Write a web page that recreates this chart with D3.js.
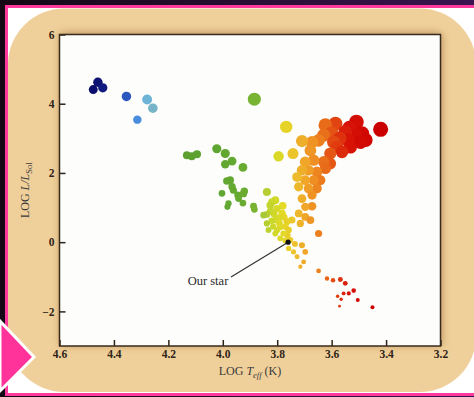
<!DOCTYPE html>
<html>
<head>
<meta charset="utf-8">
<script src="https://cdn.jsdelivr.net/npm/d3@7"></script>
<style>
  html, body { margin: 0; padding: 0; background: #1a0b1c; }
  svg { display: block; }
</style>
</head>
<body>
<svg id="chart" width="474" height="397"></svg>
<script>
// Hertzsprung–Russell diagram: [log Teff (K), log L/Lsun]
const hotStars = [
  [4.476, 4.41], [4.459, 4.62], [4.441, 4.46], [4.354, 4.21],
  [4.314, 3.54], [4.278, 4.12], [4.257, 3.87]
];

const mainSequence = [
  [4.132, 2.51], [4.114, 2.48], [4.095, 2.54],
  [4.022, 2.70], [3.991, 2.56], [3.991, 2.25], [3.966, 2.34], [3.926, 2.16],
  [3.985, 1.77], [3.973, 1.79], [3.966, 1.60], [4.003, 1.41], [3.961, 1.50],
  [3.921, 1.47], [3.945, 1.36], [3.942, 1.26], [3.926, 1.13], [3.979, 1.12],
  [3.983, 1.02], [3.887, 1.04], [3.884, 0.95], [3.924, 1.40],
  [3.838, 1.45], [3.819, 1.16], [3.807, 1.21], [3.826, 1.07], [3.801, 0.97],
  [3.850, 0.78], [3.838, 0.80], [3.782, 0.83], [3.807, 0.64], [3.764, 0.59],
  [3.746, 0.64], [3.789, 0.44], [3.838, 0.54], [3.832, 0.35], [3.807, 0.25],
  [3.777, 0.25], [3.758, 0.35], [3.789, 0.11], [3.752, 0.06], [3.815, 0.45],
  [3.795, 0.70], [3.770, 0.45], [3.825, 0.90], [3.780, 1.05], [3.800, 0.35],
  [3.762, 0.20], [3.735, -0.05], [3.758, -0.18], [3.740, -0.28], [3.727, -0.42],
  [3.715, -0.71], [3.703, -0.57], [3.697, -0.28], [3.709, -0.09],
  [3.812, 0.82], [3.792, 0.55], [3.775, 0.72], [3.820, 0.62], [3.770, 0.05],
  [3.648, 0.25], [3.648, -0.83]
];

const giants = [
  [3.884, 4.13], [3.767, 3.33], [3.795, 2.48], [3.742, 2.56], [3.709, 2.92],
  [3.623, 3.38], [3.586, 3.42], [3.509, 3.47], [3.420, 3.26], [3.550, 3.18],
  [3.513, 3.09], [3.488, 3.14], [3.494, 2.89], [3.531, 2.75], [3.562, 2.61],
  [3.593, 2.89], [3.605, 2.56], [3.629, 3.09], [3.648, 2.94], [3.672, 2.89],
  [3.678, 2.65], [3.666, 2.37], [3.629, 2.32], [3.605, 2.27], [3.697, 2.32],
  [3.709, 2.08], [3.685, 2.08], [3.654, 2.03], [3.623, 2.13], [3.727, 1.88],
  [3.697, 1.79], [3.666, 1.79], [3.642, 1.79], [3.721, 1.60], [3.685, 1.55],
  [3.654, 1.55], [3.709, 1.26], [3.672, 1.36], [3.697, 1.02], [3.672, 1.04],
  [3.721, 0.83], [3.697, 0.73], [3.715, 0.54], [3.678, 0.64],
  [3.570, 3.00], [3.540, 2.95], [3.580, 2.75], [3.535, 3.30], [3.600, 3.15],
  [3.475, 2.95]
];

const dwarfs = [
  [3.617, -1.05], [3.595, -1.10], [3.568, -1.08], [3.550, -1.19], [3.519, -1.40],
  [3.537, -1.48], [3.556, -1.48], [3.578, -1.56], [3.565, -1.65], [3.504, -1.67],
  [3.571, -1.85], [3.450, -1.88]
];

const sun = [3.76, 0.0];
const sunLabel = "Our star";

const xTicks = [4.6, 4.4, 4.2, 4.0, 3.8, 3.6, 3.4, 3.2];
const yTicks = [-2, 0, 2, 4, 6];

// colour by surface temperature
const tempStops = [4.47, 4.40, 4.35, 4.31, 4.28, 4.25, 4.15, 4.00, 3.90, 3.88, 3.85, 3.82, 3.78, 3.74, 3.70, 3.66, 3.62, 3.58, 3.54, 3.45, 3.40];
const tempColors = ["#0b0d6c", "#1a2f9a", "#2c5ac2", "#4c92e0", "#6cb4d8", "#7cb4c2", "#5c9e2e", "#60a632", "#6cae30", "#7cb432", "#a8c838", "#cad82a", "#e4da26", "#ecc42c", "#f0a82a", "#ee8a22", "#e86818", "#e03c10", "#d81408", "#cc0000", "#c80000"];

const W = 474, H = 397;
const plot = { left: 59.5, right: 440.5, top: 34.5, bottom: 346 };

const svg = d3.select("#chart");
const defs = svg.append("defs");

const bgGrad = defs.append("linearGradient").attr("id", "bg").attr("x1", 0).attr("x2", 1).attr("y1", 0).attr("y2", 0);
bgGrad.append("stop").attr("offset", "0%").attr("stop-color", "#140814");
bgGrad.append("stop").attr("offset", "100%").attr("stop-color", "#3a1450");

const shadow = defs.append("filter").attr("id", "plotShadow")
  .attr("x", "-10%").attr("y", "-10%").attr("width", "120%").attr("height", "120%");
shadow.append("feDropShadow").attr("dx", 1).attr("dy", -1).attr("stdDeviation", 4)
  .attr("flood-color", "#7a4e1c").attr("flood-opacity", 0.55);

// backdrop, frame and panel
svg.append("rect").attr("width", W).attr("height", H).attr("fill", "url(#bg)");
svg.append("rect").attr("x", 6.5).attr("y", 6.5).attr("width", W + 10).attr("height", 388)
  .attr("fill", "#ffffff").attr("stroke", "#ff3a9c").attr("stroke-width", 3);
svg.append("rect").attr("x", 8).attr("y", 8.5).attr("width", 468).attr("height", 383.5)
  .attr("rx", 56).attr("fill", "#f0d09a");
svg.append("path").attr("d", "M0,321 L34,357 L0,391 Z")
  .attr("fill", "#ff3399").attr("stroke", "#ffffff").attr("stroke-width", 3).attr("stroke-linejoin", "miter");

// plot area
svg.append("rect").attr("x", plot.left).attr("y", plot.top)
  .attr("width", plot.right - plot.left).attr("height", plot.bottom - plot.top)
  .attr("fill", "#fdfdfb").attr("filter", "url(#plotShadow)");

const x = d3.scaleLinear().domain([4.6, 3.2]).range([plot.left, plot.right]);
const y = d3.scaleLinear().domain([-3, 6]).range([plot.bottom, plot.top]);
const color = d3.scaleLinear().domain(tempStops).range(tempColors).clamp(true);
// marker radius follows stellar radius: log R = ½ log L − 2 (log T − log T☉)
const logR = d => 0.5 * d[1] - 2 * (d[0] - sun[0]);
const r = d3.scaleLinear().domain([-0.6, 0, 2.3]).range([1.2, 2.9, 7.5]).clamp(true);

const stars = [].concat(hotStars, mainSequence, giants, dwarfs)
  .sort((a, b) => logR(b) - logR(a));

svg.append("g").selectAll("circle").data(stars).join("circle")
  .attr("cx", d => x(d[0]))
  .attr("cy", d => y(d[1]))
  .attr("r", d => r(logR(d)))
  .attr("fill", d => color(d[0]));

// axes
const axisFont = "'Liberation Serif', 'Times New Roman', serif";
const ink = "#2e2418";

const xAxis = svg.append("g").attr("transform", `translate(0,${plot.bottom})`)
  .call(d3.axisBottom(x).tickValues(xTicks).tickFormat(d3.format(".1f")).tickSize(-6).tickPadding(4));
const yAxis = svg.append("g").attr("transform", `translate(${plot.left},0)`)
  .call(d3.axisLeft(y).tickValues(yTicks).tickFormat(d3.format("d")).tickSize(-6).tickPadding(5));

[xAxis, yAxis].forEach(g => {
  g.select(".domain").remove();
  g.selectAll("line").attr("stroke", ink).attr("stroke-width", 1.5);
  g.selectAll("text").attr("fill", ink).style("font-family", axisFont)
    .style("font-size", "11.5px").style("font-weight", "bold");
});

svg.append("rect").attr("x", plot.left).attr("y", plot.top)
  .attr("width", plot.right - plot.left).attr("height", plot.bottom - plot.top)
  .attr("fill", "none").attr("stroke", "#3a2a1c").attr("stroke-width", 1.5);

// axis titles
const xTitle = svg.append("text").attr("x", (plot.left + plot.right) / 2).attr("y", 375)
  .attr("text-anchor", "middle").attr("fill", "#3a3a3a")
  .style("font-family", axisFont).style("font-size", "12px");
xTitle.append("tspan").text("LOG ");
xTitle.append("tspan").style("font-style", "italic").text("T");
xTitle.append("tspan").attr("dy", 2.5).style("font-size", "8.5px").style("font-style", "italic").text("eff");
xTitle.append("tspan").attr("dy", -2.5).text(" (K)");

const yTitle = svg.append("text")
  .attr("transform", `translate(29,${(plot.top + plot.bottom) / 2}) rotate(-90)`)
  .attr("text-anchor", "middle").attr("fill", "#3a3a3a")
  .style("font-family", axisFont).style("font-size", "12px");
yTitle.append("tspan").text("LOG ");
yTitle.append("tspan").style("font-style", "italic").text("L/L");
yTitle.append("tspan").attr("dy", 3).style("font-size", "8.5px").text("Sol");

// the Sun and its label
const labelPos = { x: 208, y: 285 };
svg.append("line")
  .attr("x1", labelPos.x + 23).attr("y1", labelPos.y - 8)
  .attr("x2", x(sun[0])).attr("y2", y(sun[1]))
  .attr("stroke", "#333333").attr("stroke-width", 1.2);
svg.append("circle").attr("cx", x(sun[0])).attr("cy", y(sun[1])).attr("r", 2.6).attr("fill", "#111111");
svg.append("text").attr("x", labelPos.x).attr("y", labelPos.y)
  .attr("text-anchor", "middle").attr("fill", "#2a2a2a")
  .style("font-family", axisFont).style("font-size", "12.5px").text(sunLabel);
</script>
</body>
</html>
